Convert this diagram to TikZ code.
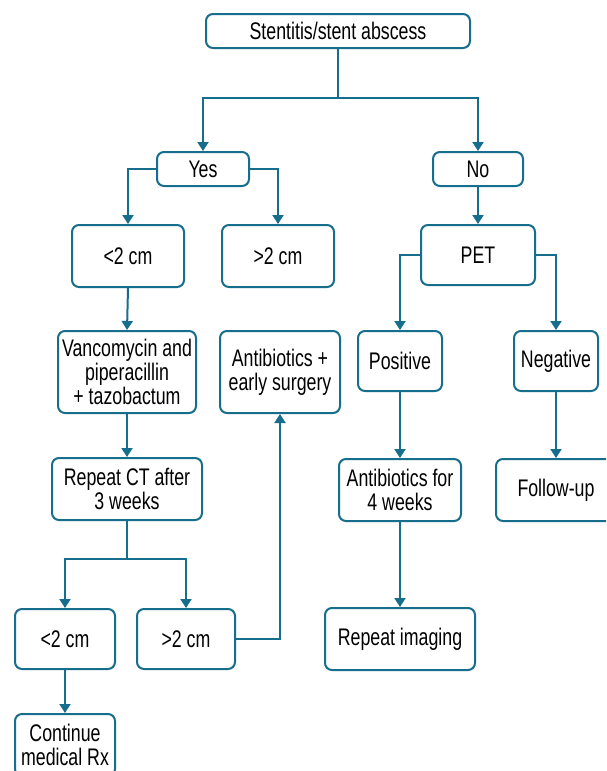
\documentclass[tikz,border=0pt]{standalone}
\usepackage{fontspec}
\setmainfont[FakeStretch=0.74]{Liberation Sans}
\usetikzlibrary{arrows.meta}
\definecolor{teal1}{RGB}{22,110,140}
\tikzset{
  box/.style={draw=teal1, line width=2pt, rounded corners=7pt, fill=white, align=center, inner sep=0pt, font=\fontsize{24}{24}\selectfont},
  arr/.style={draw=teal1, line width=2pt, -{Triangle[width=11pt,length=9pt]}}
}
\begin{document}
\begin{tikzpicture}[x=1pt,y=-1pt]
\clip (0,0) rectangle (606,771);
\fill[white] (0,0) rectangle (606,771);
\node[box, minimum width=264pt, minimum height=34pt] (top) at (338,31) {Stentitis/stent abscess};
\node[box, minimum width=92pt, minimum height=34pt] (yes) at (203,169) {Yes};
\node[box, minimum width=90pt, minimum height=34pt] (no) at (478,169) {No};
\node[box, minimum width=112pt, minimum height=62pt] (lt) at (128,256) {\textless2 cm};
\node[box, minimum width=112pt, minimum height=62pt] (gt) at (278,256) {\textgreater2 cm};
\node[box, minimum width=114pt, minimum height=60pt] (pet) at (478,255) {PET};
\node[box, minimum width=138pt, minimum height=82pt] (van) at (127,372) {Vancomycin and\\piperacillin\\+ tazobactum};
\node[box, minimum width=120pt, minimum height=82pt] (ab) at (280,372) {Antibiotics +\\early surgery};
\node[box, minimum width=84pt, minimum height=60pt] (pos) at (400,361) {Positive};
\node[box, minimum width=84pt, minimum height=60pt] (neg) at (556,361) {Negative};
\node[box, minimum width=150pt, minimum height=62pt] (rct) at (127,489) {Repeat CT after\\3 weeks};
\node[box, minimum width=122pt, minimum height=62pt] (ab4) at (400,490) {Antibiotics for\\4 weeks};
\node[box, minimum width=120pt, minimum height=62pt] (fu) at (556,490) {Follow-up};
\node[box, minimum width=100pt, minimum height=60pt] (l2) at (65,639) {\textless2 cm};
\node[box, minimum width=98pt, minimum height=60pt] (g2) at (186,639) {\textgreater2 cm};
\node[box, minimum width=150pt, minimum height=62pt] (ri) at (400,639) {Repeat imaging};
\node[box, minimum width=100pt, minimum height=62pt] (cm) at (65,745) {Continue\\medical Rx};
% connectors
\draw[arr] (top.south) -- ++(0,49) -| (yes.north);
\draw[arr] (top.south) -- ++(0,49) -| (no.north);
\draw[arr] (yes.west) -| (lt.north);
\draw[arr] (yes.east) -| (gt.north);
\draw[arr] (no.south) -- (pet.north);
\draw[arr] (pet.west) -| (pos.north);
\draw[arr] (pet.east) -| (neg.north);
\draw[arr] (lt.south) -- (van.north);
\draw[arr] (van.south) -- (rct.north);
\draw[arr] (rct.south) -- ++(0,38) -| (l2.north);
\draw[arr] (rct.south) -- ++(0,38) -| (g2.north);
\draw[arr] (l2.south) -- (cm.north);
\draw[arr] (g2.east) -| (ab.south);
\draw[arr] (pos.south) -- (ab4.north);
\draw[arr] (neg.south) -- (fu.north);
\draw[arr] (ab4.south) -- (ri.north);
\end{tikzpicture}
\end{document}
